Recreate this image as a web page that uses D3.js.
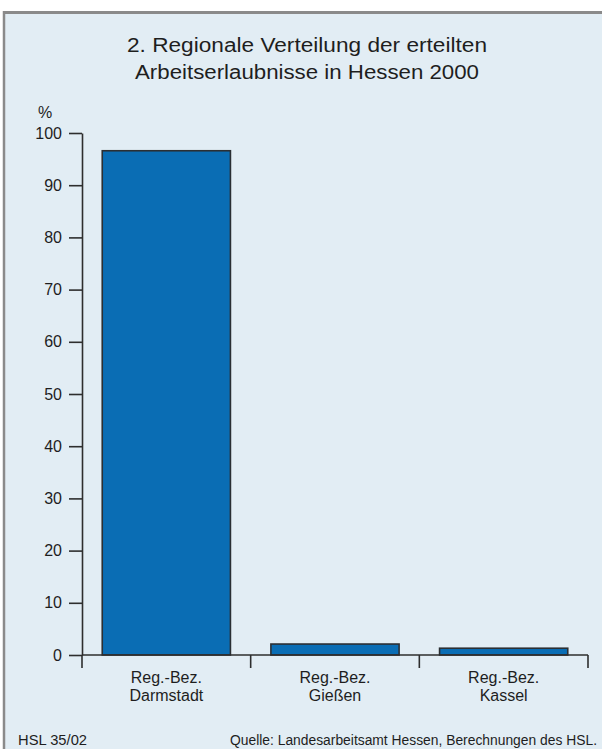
<!DOCTYPE html>
<html>
<head>
<meta charset="utf-8">
<script src="https://cdn.jsdelivr.net/npm/d3@7"></script>
<style>
  html, body { margin: 0; padding: 0; background: #ffffff; }
  svg { display: block; }
  text { font-family: "Liberation Sans", Arial, sans-serif; fill: #1e1e1e; }
</style>
</head>
<body>
<svg id="chart" width="602" height="749"></svg>
<script>
// Anteile der erteilten Arbeitserlaubnisse nach Regierungsbezirk (in %)
const categories = [["Reg.-Bez.", "Darmstadt"], ["Reg.-Bez.", "Gießen"], ["Reg.-Bez.", "Kassel"]];
const values = [96.6, 2.1, 1.3];
const yTicks = [0, 10, 20, 30, 40, 50, 60, 70, 80, 90, 100];
const titleLines = ["2. Regionale Verteilung der erteilten", "Arbeitserlaubnisse in Hessen 2000"];
const unitLabel = "%";
const footLeft = "HSL 35/02";
const footRight = "Quelle: Landesarbeitsamt Hessen, Berechnungen des HSL.";

const W = 602, H = 749;
const svg = d3.select("#chart");

// Panel background and its frame
svg.append("rect").attr("x", 4).attr("y", 12).attr("width", W - 4).attr("height", H - 12)
  .attr("fill", "#e2edf4");
svg.append("line").attr("x1", 3).attr("x2", W).attr("y1", 12.5).attr("y2", 12.5)
  .attr("stroke", "#8a8a8a").attr("stroke-width", 3);
svg.append("line").attr("x1", 4).attr("x2", 4).attr("y1", 11).attr("y2", H)
  .attr("stroke", "#8a8a8a").attr("stroke-width", 2.5);

// Title
svg.append("g").selectAll("text").data(titleLines).join("text")
  .attr("x", 307).attr("y", (d, i) => 52 + i * 27)
  .attr("text-anchor", "middle").attr("font-size", 20)
  .attr("textLength", (d, i) => i === 0 ? 360 : 344).attr("lengthAdjust", "spacingAndGlyphs")
  .text(d => d);

const plot = { left: 82, right: 588, top: 133, bottom: 655 };

const x = d3.scaleBand().domain(d3.range(categories.length))
  .range([plot.left, plot.right]).paddingInner(0.24).paddingOuter(0.12);
const y = d3.scaleLinear().domain([0, 100]).range([plot.bottom, plot.top]);

const axisColor = "#2e2e2e";

// Unit label
svg.append("text").attr("x", 38).attr("y", 118).attr("font-size", 16).text(unitLabel);

// Y axis
const yAxis = svg.append("g").attr("transform", `translate(${plot.left},0)`)
  .call(d3.axisLeft(y).tickValues(yTicks).tickSize(13).tickPadding(7).tickSizeOuter(0));
yAxis.select(".domain").attr("stroke", axisColor).attr("stroke-width", 1.6);
yAxis.selectAll(".tick line").attr("stroke", axisColor).attr("stroke-width", 1.6);
yAxis.selectAll(".tick text").attr("font-size", 16).attr("fill", "#1e1e1e")
  .attr("font-family", "'Liberation Sans', Arial, sans-serif");

// Bars
svg.append("g").selectAll("rect").data(values).join("rect")
  .attr("x", (d, i) => x(i)).attr("width", x.bandwidth())
  .attr("y", d => y(d)).attr("height", d => y(0) - y(d))
  .attr("fill", "#0a6db4").attr("stroke", "#2b2f33").attr("stroke-width", 1.6);

// X axis: baseline with category separators
const sep = d3.scaleLinear().domain([0, categories.length]).range([plot.left, plot.right]);
svg.append("line").attr("x1", plot.left).attr("x2", plot.right)
  .attr("y1", y(0)).attr("y2", y(0)).attr("stroke", axisColor).attr("stroke-width", 1.6);
svg.append("g").selectAll("line").data(d3.range(categories.length + 1)).join("line")
  .attr("x1", d => sep(d)).attr("x2", d => sep(d))
  .attr("y1", y(0)).attr("y2", y(0) + 13)
  .attr("stroke", axisColor).attr("stroke-width", 1.6);

// Category labels
const catG = svg.append("g").selectAll("text").data(categories).join("text")
  .attr("text-anchor", "middle").attr("font-size", 16);
catG.selectAll("tspan").data((d, i) => d.map(s => ({ s, i }))).join("tspan")
  .attr("x", d => x(d.i) + x.bandwidth() / 2)
  .attr("y", (d, j) => 683 + j * 18)
  .text(d => d.s);

// Footer
svg.append("text").attr("x", 18).attr("y", 745).attr("font-size", 14)
  .attr("textLength", 69).attr("lengthAdjust", "spacingAndGlyphs").text(footLeft);
svg.append("text").attr("x", 597).attr("y", 745).attr("font-size", 14)
  .attr("text-anchor", "end")
  .attr("textLength", 367).attr("lengthAdjust", "spacingAndGlyphs").text(footRight);
</script>
</body>
</html>
